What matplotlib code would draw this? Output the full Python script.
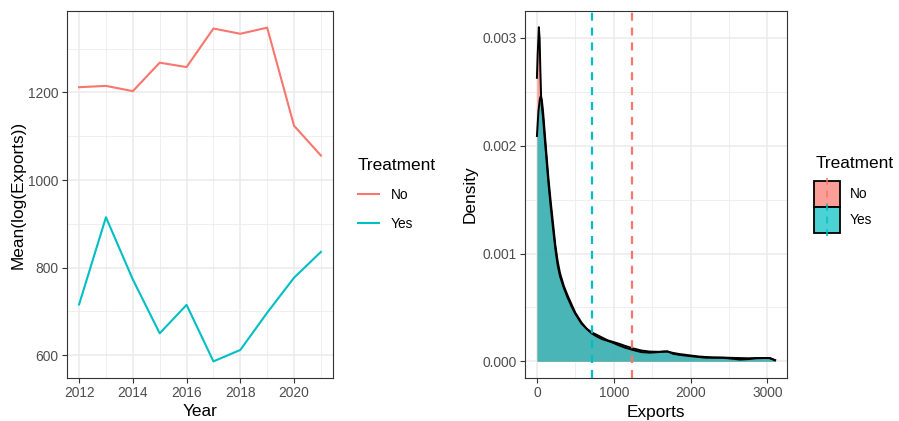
import matplotlib
matplotlib.use("Agg")
import matplotlib.pyplot as plt
from matplotlib.patches import Rectangle, Patch
from matplotlib.lines import Line2D
from matplotlib.legend_handler import HandlerBase
from matplotlib.ticker import MultipleLocator

plt.rcParams['font.family'] = ['Liberation Sans', 'DejaVu Sans']

# ---------------------------------------------------------------------------
# Datos
# ---------------------------------------------------------------------------
years    = [2012, 2013, 2014, 2015, 2016, 2017, 2018, 2019, 2020, 2021]
mean_no  = [1212, 1215, 1203, 1268, 1258, 1346, 1334, 1348, 1124, 1056]
mean_yes = [716, 915, 773, 650, 715, 586, 612, 697, 777, 836]

exports_no  = [0, 10, 25, 35, 45, 55, 65, 80, 100, 120, 150, 180, 210, 240,
               270, 300, 350, 400, 450, 500, 580, 650, 710, 780, 850, 920,
               990, 1060, 1140, 1250, 1360, 1470, 1580, 1650, 1700, 1770,
               1850, 1990, 2100, 2200, 2300, 2420, 2530, 2640, 2750, 2850,
               2950, 3030, 3100]
density_no  = [0.00263, 0.00285, 0.00310, 0.00300, 0.00270, 0.00245, 0.00236,
               0.00226, 0.00208, 0.00191, 0.00165, 0.00143, 0.00123, 0.00104,
               0.00089, 0.00079, 0.00068, 0.00059, 0.00051, 0.00044, 0.00035,
               0.00030, 0.00027, 0.000245, 0.000220, 0.000195, 0.000180,
               0.000165, 0.000145, 0.000120, 0.000100, 0.000090, 0.000088,
               0.000090, 0.000090, 0.000078, 0.000068, 0.000055, 0.000045,
               0.000040, 0.000036, 0.000035, 0.000032, 0.000030, 0.000028,
               0.000030, 0.000030, 0.000030, 0.000010]

exports_yes = [0, 20, 40, 52, 65, 80, 100, 120, 150, 180, 210, 240, 270, 300,
               350, 400, 450, 500, 580, 650, 710, 780, 850, 920, 990, 1060,
               1140, 1250, 1360, 1470, 1580, 1650, 1700, 1770, 1850, 1990,
               2100, 2200, 2300, 2420, 2530, 2640, 2750, 2850, 2950, 3030,
               3100]
density_yes = [0.00209, 0.00232, 0.00244, 0.00246, 0.00242, 0.00232, 0.00214,
               0.00196, 0.00170, 0.00148, 0.00128, 0.00108, 0.00093, 0.00082,
               0.00070, 0.00061, 0.00053, 0.00045, 0.00036, 0.00030, 0.00026,
               0.000230, 0.000205, 0.000190, 0.000172, 0.000150, 0.000128,
               0.000105, 0.000085, 0.000080, 0.000085, 0.000090, 0.000092,
               0.000070, 0.000060, 0.000048, 0.000040, 0.000033, 0.000033,
               0.000032, 0.000025, 0.000016, 0.000020, 0.000028, 0.000030,
               0.000030, 0.000010]

mean_exports_no  = 1240
mean_exports_yes = 713

groups = ["No", "Yes"]

RED  = "#F8766D"
CYAN = "#00BFC4"
ALPHA = 0.7


class KeyHandler(HandlerBase):
    """Caja rellena con borde negro y línea discontinua vertical (como ggplot)."""

    def __init__(self, line_color):
        super().__init__()
        self.line_color = line_color

    def create_artists(self, legend, orig_handle, xdescent, ydescent,
                       width, height, fontsize, trans):
        rect = Rectangle((-xdescent, -ydescent), width, height,
                         facecolor=orig_handle.get_facecolor(),
                         edgecolor="black", lw=1.3, transform=trans)
        xm = -xdescent + width / 2
        line = Line2D([xm, xm], [-ydescent - 2, -ydescent + height + 2],
                      color=self.line_color, ls=(0, (3.5, 3)), lw=1.4,
                      alpha=0.8, transform=trans)
        return [rect, line]


def estilo(ax):
    ax.set_facecolor("white")
    for s in ax.spines.values():
        s.set_color("#333333")
        s.set_linewidth(0.8)
    ax.grid(which="major", color="#EBEBEB", lw=1.1)
    ax.grid(which="minor", color="#EBEBEB", lw=0.55)
    ax.set_axisbelow(True)
    ax.tick_params(which="major", length=3.5, width=0.8, color="#333333",
                   labelcolor="#4D4D4D", labelsize=9.9, pad=2.5)
    ax.tick_params(which="minor", length=0)


fig = plt.figure(figsize=(8.99, 4.21), dpi=100)
ax1 = fig.add_axes([67 / 899, 43 / 421, 266 / 899, 367 / 421])
ax2 = fig.add_axes([525 / 899, 43 / 421, 262 / 899, 367 / 421])

# ---------------------------------------------------------------------------
# Panel izquierdo: medias por año
# ---------------------------------------------------------------------------
estilo(ax1)
ax1.plot(years, mean_no, color=RED, lw=1.5, label=groups[0])
ax1.plot(years, mean_yes, color=CYAN, lw=1.5, label=groups[1])
ax1.set_xlim(2011.55, 2021.45)
ax1.set_ylim(548, 1386)
ax1.xaxis.set_major_locator(MultipleLocator(2))
ax1.xaxis.set_minor_locator(MultipleLocator(1))
ax1.yaxis.set_major_locator(MultipleLocator(200))
ax1.yaxis.set_minor_locator(MultipleLocator(100))
ax1.set_xlabel("Year", fontsize=12.4, labelpad=3)
ax1.set_ylabel("Mean(log(Exports))", fontsize=12.4, labelpad=2)

leg1 = ax1.legend(title="Treatment", loc="upper left",
                  bbox_to_anchor=(358 / 899, 1 - 158 / 421),
                  bbox_transform=fig.transFigure, frameon=False,
                  fontsize=9.9, title_fontsize=12.4, alignment="left",
                  handlelength=1.55, handletextpad=0.85, labelspacing=1.08,
                  borderaxespad=0, borderpad=0)

# ---------------------------------------------------------------------------
# Panel derecho: densidades
# ---------------------------------------------------------------------------
estilo(ax2)
ax2.fill_between(exports_no, 0, density_no, color=RED, alpha=ALPHA, lw=0)
ax2.plot(exports_no, density_no, color="black", lw=1.4)
ax2.fill_between(exports_yes, 0, density_yes, color=CYAN, alpha=ALPHA, lw=0)
ax2.plot(exports_yes, density_yes, color="black", lw=1.4)
ax2.axvline(mean_exports_no, color=RED, ls=(0, (3.6, 3.1)), lw=1.6)
ax2.axvline(mean_exports_yes, color=CYAN, ls=(0, (3.6, 3.1)), lw=1.6)
ax2.set_xlim(-155, 3255)
ax2.set_ylim(-0.000155, 0.00325)
ax2.xaxis.set_major_locator(MultipleLocator(1000))
ax2.xaxis.set_minor_locator(MultipleLocator(500))
ax2.yaxis.set_major_locator(MultipleLocator(0.001))
ax2.yaxis.set_minor_locator(MultipleLocator(0.0005))
ax2.yaxis.set_major_formatter(lambda v, p: f"{v:.3f}")
ax2.set_xlabel("Exports", fontsize=12.4, labelpad=3)
ax2.set_ylabel("Density", fontsize=12.4, labelpad=3)

fig.text(816 / 899, 1 - 163 / 421, "Treatment", fontsize=12.4,
         ha="left", va="center")
handles = [Patch(facecolor=RED, alpha=ALPHA), Patch(facecolor=CYAN, alpha=ALPHA)]
leg2 = ax2.legend(handles, groups, loc="upper left",
                  bbox_to_anchor=(814 / 899, 1 - 181 / 421),
                  bbox_transform=fig.transFigure, frameon=False,
                  fontsize=9.9, handlelength=1.9, handleheight=2.53,
                  handletextpad=0.7, labelspacing=0, borderaxespad=0,
                  borderpad=0,
                  handler_map={handles[0]: KeyHandler(RED),
                               handles[1]: KeyHandler(CYAN)})

plt.savefig("out.png", dpi=100)
